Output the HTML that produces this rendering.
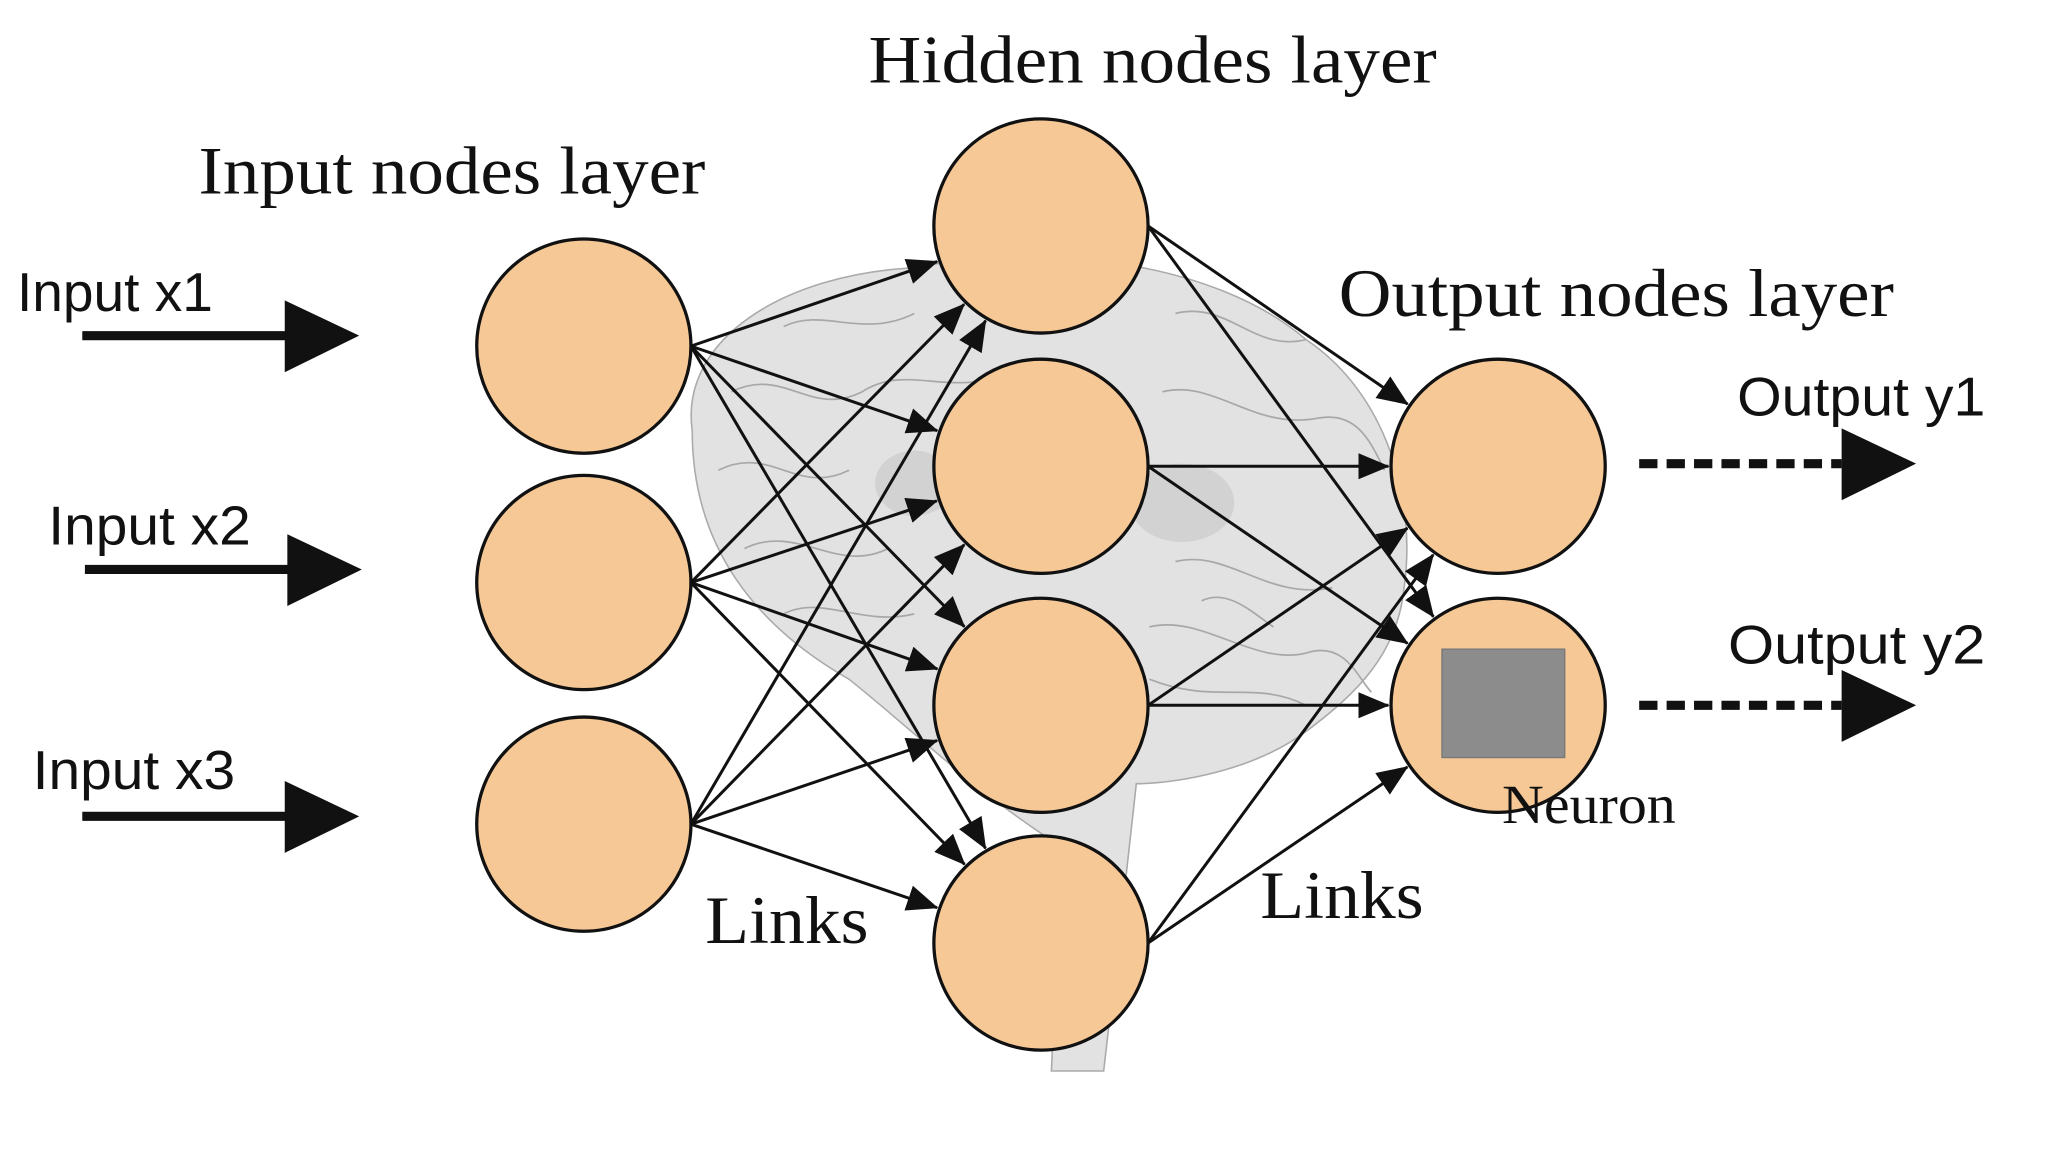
<!DOCTYPE html>
<html><head><meta charset="utf-8">
<style>
html,body{margin:0;padding:0;background:#fff;}
svg{display:block;}
.serif{font-family:"Liberation Serif",serif;fill:#111;}
.sans{font-family:"Liberation Sans",sans-serif;fill:#111;}
</style></head>
<body>
<svg id="s" width="2048" height="1152" viewBox="0 0 1568 882" xmlns="http://www.w3.org/2000/svg">
<defs>
<marker id="ah2" markerWidth="24" markerHeight="20" refX="23" refY="10" orient="auto" markerUnits="userSpaceOnUse" viewBox="0 0 24 20">
<path d="M0,0 L24,10 L0,20 Z" fill="#111"/>
</marker>
</defs>
<rect width="1568" height="882" fill="#fff"/>
<g fill="#e2e2e2" stroke="#aaa" stroke-width="1.2">
<path d="M530,330 C520,260 600,210 700,205 C800,185 930,200 1000,260 C1060,300 1085,380 1075,450 C1070,500 1040,530 1000,560 C960,590 900,600 870,600 L860,690 L845,820 L805,820 L810,700 L800,640 C740,600 700,560 650,520 C580,480 530,420 530,330 Z"/>
</g>
<g fill="none" stroke="#a8a8a8" stroke-width="1.3">
<path d="M560,300 C600,280 620,320 660,300 C690,280 720,300 760,290"/>
<path d="M550,360 C590,340 610,380 650,360"/>
<path d="M570,420 C610,400 640,440 680,420"/>
<path d="M600,250 C630,235 660,260 700,240"/>
<path d="M900,240 C940,230 960,270 1000,260"/>
<path d="M890,300 C930,290 960,330 1010,320 C1040,315 1050,340 1060,360"/>
<path d="M900,430 C940,420 970,460 1020,450"/>
<path d="M880,480 C920,470 960,510 1000,500 C1030,490 1040,520 1050,530"/>
<path d="M920,460 C940,450 960,470 975,480"/>
<path d="M880,520 C930,540 960,520 1000,540"/>
<path d="M600,470 C630,455 660,480 700,470"/>
</g>
<ellipse cx="905" cy="385" rx="40" ry="30" fill="#cccccc" opacity="0.7"/>
<ellipse cx="700" cy="370" rx="30" ry="25" fill="#cccccc" opacity="0.7"/>
<g id="links" stroke="#111" stroke-width="2.3" fill="none"></g>
<g id="nodes" fill="#F5C896" stroke="#111" stroke-width="2.5"></g>
<rect x="1104" y="497" width="94" height="83" fill="#8c8c8c" stroke="#777" stroke-width="1"/>
<g stroke="#111" stroke-width="7">
<line x1="63" y1="257" x2="222" y2="257"/>
<line x1="65" y1="436" x2="224" y2="436"/>
<line x1="63" y1="625" x2="222" y2="625"/>
</g>
<g fill="#111">
<path d="M218,230 L275,257 L218,285 Z"/>
<path d="M220,409 L277,436 L220,464 Z"/>
<path d="M218,598 L275,625 L218,653 Z"/>
<path d="M1410,328 L1467,355 L1410,383 Z"/>
<path d="M1410,513 L1467,540 L1410,568 Z"/>
</g>
<g stroke="#111" stroke-width="7" stroke-dasharray="14,7">
<line x1="1255" y1="355" x2="1410" y2="355"/>
<line x1="1255" y1="540" x2="1410" y2="540"/>
</g>
<text class="sans" x="13" y="238" font-size="42" textLength="150" lengthAdjust="spacingAndGlyphs">Input x1</text>
<text class="sans" x="37" y="417" font-size="42" textLength="155" lengthAdjust="spacingAndGlyphs">Input x2</text>
<text class="sans" x="25" y="604" font-size="42" textLength="155" lengthAdjust="spacingAndGlyphs">Input x3</text>
<text class="sans" x="1330" y="318" font-size="42" textLength="190" lengthAdjust="spacingAndGlyphs">Output y1</text>
<text class="sans" x="1323" y="508" font-size="42" textLength="197" lengthAdjust="spacingAndGlyphs">Output y2</text>
<text class="serif" x="665" y="63" font-size="52" textLength="435" lengthAdjust="spacingAndGlyphs">Hidden nodes layer</text>
<text class="serif" x="152" y="148" font-size="52" textLength="388" lengthAdjust="spacingAndGlyphs">Input nodes layer</text>
<text class="serif" x="1025" y="242" font-size="52" textLength="425" lengthAdjust="spacingAndGlyphs">Output nodes layer</text>
<text class="serif" x="540" y="722" font-size="52" textLength="125" lengthAdjust="spacingAndGlyphs">Links</text>
<text class="serif" x="965" y="703" font-size="52" textLength="125" lengthAdjust="spacingAndGlyphs">Links</text>
<text class="serif" x="1150" y="630" font-size="42" textLength="133" lengthAdjust="spacingAndGlyphs">Neuron</text>
</svg>
<script>
var NS="http://www.w3.org/2000/svg",R=82;
var inp=[[447,265],[447,446],[447,631]],hid=[[797,173],[797,357],[797,540],[797,722]],out=[[1147,357],[1147,540]];
var L=document.getElementById("links"),N=document.getElementById("nodes");
function link(a,b){var sx=a[0]+R,sy=a[1];var dx=b[0]-sx,dy=b[1]-sy,d=Math.sqrt(dx*dx+dy*dy);
var ex=b[0]-dx/d*(R+2),ey=b[1]-dy/d*(R+2);
var l=document.createElementNS(NS,"line");l.setAttribute("x1",sx);l.setAttribute("y1",sy);l.setAttribute("x2",ex);l.setAttribute("y2",ey);
l.setAttribute("marker-end","url(#ah2)");L.appendChild(l);}
inp.forEach(function(a){hid.forEach(function(b){link(a,b);});});
hid.forEach(function(a){out.forEach(function(b){link(a,b);});});
inp.concat(hid,out).forEach(function(c){var e=document.createElementNS(NS,"circle");e.setAttribute("cx",c[0]);e.setAttribute("cy",c[1]);e.setAttribute("r",R);N.appendChild(e);});
</script>
</body></html>
